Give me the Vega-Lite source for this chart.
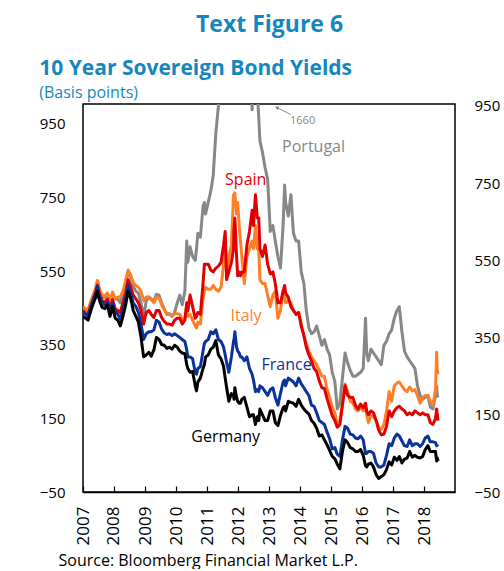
{
"$schema": "https://vega.github.io/schema/vega-lite/v6.json",
"background": "white",
"padding": {"left": 38, "top": 14, "right": 0, "bottom": 0},
"config": {"font": "Open Sans", "view": {"stroke": "#000", "strokeWidth": 1.5}},
"title": {"text": "Text Figure 6", "anchor": "middle", "fontSize": 23, "fontWeight": "bold", "color": "#1487bf", "font": "Open Sans", "offset": 20},
"datasets": {
"yields": [
{"d":"2007-01-01","P":425,"I":430,"S":420,"F":415,"G":405},
{"d":"2007-02-01","P":420,"I":425,"S":412,"F":410,"G":400},
{"d":"2007-03-01","P":418,"I":422,"S":410,"F":405,"G":395},
{"d":"2007-04-01","P":440,"I":442,"S":432,"F":428,"G":418},
{"d":"2007-05-01","P":458,"I":460,"S":450,"F":448,"G":438},
{"d":"2007-06-01","P":478,"I":480,"S":470,"F":465,"G":455},
{"d":"2007-06-20","P":495,"I":498,"S":486,"F":482,"G":470},
{"d":"2007-07-15","P":470,"I":475,"S":462,"F":455,"G":445},
{"d":"2007-08-15","P":452,"I":458,"S":445,"F":440,"G":428},
{"d":"2007-09-15","P":455,"I":458,"S":442,"F":435,"G":425},
{"d":"2007-10-15","P":462,"I":466,"S":450,"F":442,"G":435},
{"d":"2007-11-15","P":440,"I":445,"S":422,"F":415,"G":405},
{"d":"2007-12-15","P":465,"I":468,"S":448,"F":440,"G":430},
{"d":"2008-01-15","P":450,"I":452,"S":425,"F":418,"G":400},
{"d":"2008-02-15","P":450,"I":455,"S":420,"F":410,"G":395},
{"d":"2008-03-15","P":440,"I":455,"S":415,"F":398,"G":380},
{"d":"2008-04-15","P":462,"I":470,"S":440,"F":420,"G":405},
{"d":"2008-05-15","P":488,"I":495,"S":462,"F":450,"G":432},
{"d":"2008-06-15","P":520,"I":525,"S":500,"F":485,"G":470},
{"d":"2008-07-15","P":505,"I":512,"S":482,"F":465,"G":452},
{"d":"2008-08-15","P":482,"I":492,"S":460,"F":440,"G":420},
{"d":"2008-09-15","P":470,"I":485,"S":450,"F":430,"G":405},
{"d":"2008-10-15","P":465,"I":480,"S":440,"F":415,"G":390},
{"d":"2008-11-15","P":438,"I":470,"S":420,"F":385,"G":350},
{"d":"2008-12-15","P":405,"I":445,"S":385,"F":345,"G":300},
{"d":"2009-01-15","P":445,"I":455,"S":415,"F":360,"G":305},
{"d":"2009-02-15","P":455,"I":455,"S":420,"F":365,"G":312},
{"d":"2009-03-15","P":450,"I":448,"S":410,"F":365,"G":302},
{"d":"2009-04-15","P":445,"I":440,"S":402,"F":370,"G":318},
{"d":"2009-05-15","P":462,"I":455,"S":420,"F":395,"G":350},
{"d":"2009-06-15","P":460,"I":452,"S":420,"F":390,"G":345},
{"d":"2009-07-15","P":440,"I":435,"S":402,"F":372,"G":332},
{"d":"2009-08-15","P":425,"I":422,"S":392,"F":362,"G":330},
{"d":"2009-09-15","P":412,"I":410,"S":385,"F":358,"G":322},
{"d":"2009-10-15","P":412,"I":410,"S":385,"F":360,"G":325},
{"d":"2009-11-15","P":405,"I":408,"S":382,"F":355,"G":320},
{"d":"2009-12-15","P":415,"I":412,"S":395,"F":360,"G":330},
{"d":"2010-01-15","P":440,"I":412,"S":400,"F":355,"G":325},
{"d":"2010-02-15","P":460,"I":410,"S":400,"F":350,"G":315},
{"d":"2010-03-15","P":435,"I":395,"S":385,"F":345,"G":310},
{"d":"2010-04-15","P":470,"I":400,"S":395,"F":340,"G":308},
{"d":"2010-05-07","P":600,"I":430,"S":440,"F":318,"G":280},
{"d":"2010-05-20","P":545,"I":405,"S":420,"F":300,"G":270},
{"d":"2010-06-15","P":585,"I":410,"S":460,"F":300,"G":260},
{"d":"2010-07-15","P":560,"I":395,"S":430,"F":295,"G":262},
{"d":"2010-08-15","P":550,"I":380,"S":400,"F":260,"G":225},
{"d":"2010-08-30","P":580,"I":375,"S":405,"F":255,"G":212},
{"d":"2010-09-15","P":620,"I":390,"S":415,"F":270,"G":235},
{"d":"2010-10-15","P":610,"I":385,"S":410,"F":275,"G":245},
{"d":"2010-11-15","P":690,"I":450,"S":490,"F":315,"G":270},
{"d":"2010-12-01","P":700,"I":470,"S":540,"F":335,"G":280},
{"d":"2010-12-15","P":670,"I":480,"S":540,"F":340,"G":300},
{"d":"2011-01-15","P":700,"I":475,"S":540,"F":345,"G":305},
{"d":"2011-02-15","P":730,"I":475,"S":525,"F":365,"G":320},
{"d":"2011-03-15","P":770,"I":485,"S":520,"F":360,"G":325},
{"d":"2011-04-15","P":880,"I":475,"S":530,"F":370,"G":342},
{"d":"2011-05-15","P":950,"I":470,"S":535,"F":345,"G":305},
{"d":"2011-06-15","P":1070,"I":480,"S":545,"F":340,"G":295},
{"d":"2011-07-15","P":1150,"I":540,"S":590,"F":325,"G":275},
{"d":"2011-08-03","P":1150,"I":610,"S":625,"F":305,"G":245},
{"d":"2011-08-20","P":1050,"I":510,"S":500,"F":285,"G":220},
{"d":"2011-09-15","P":1150,"I":555,"S":520,"F":260,"G":185},
{"d":"2011-10-15","P":1180,"I":590,"S":545,"F":300,"G":205},
{"d":"2011-11-09","P":1200,"I":720,"S":580,"F":340,"G":200},
{"d":"2011-11-15","P":1220,"I":690,"S":630,"F":345,"G":190},
{"d":"2011-11-25","P":1300,"I":725,"S":660,"F":365,"G":220},
{"d":"2011-12-15","P":1350,"I":670,"S":560,"F":325,"G":195},
{"d":"2011-12-28","P":1400,"I":700,"S":510,"F":315,"G":185},
{"d":"2012-01-15","P":1500,"I":640,"S":520,"F":310,"G":180},
{"d":"2012-01-30","P":1660,"I":600,"S":510,"F":300,"G":180},
{"d":"2012-02-15","P":1300,"I":560,"S":520,"F":300,"G":190},
{"d":"2012-03-15","P":1270,"I":490,"S":520,"F":290,"G":195},
{"d":"2012-04-15","P":1150,"I":560,"S":590,"F":300,"G":170},
{"d":"2012-05-15","P":1140,"I":580,"S":625,"F":270,"G":145},
{"d":"2012-06-15","P":940,"I":600,"S":680,"F":255,"G":150},
{"d":"2012-07-01","P":1020,"I":580,"S":640,"F":240,"G":150},
{"d":"2012-07-24","P":1080,"I":640,"S":720,"F":210,"G":125},
{"d":"2012-08-15","P":990,"I":580,"S":660,"F":215,"G":145},
{"d":"2012-09-01","P":920,"I":580,"S":660,"F":210,"G":135},
{"d":"2012-09-15","P":860,"I":500,"S":580,"F":225,"G":165},
{"d":"2012-10-15","P":830,"I":490,"S":560,"F":220,"G":150},
{"d":"2012-11-15","P":790,"I":490,"S":590,"F":210,"G":135},
{"d":"2012-12-15","P":760,"I":460,"S":540,"F":200,"G":135},
{"d":"2013-01-15","P":625,"I":430,"S":515,"F":215,"G":160},
{"d":"2013-02-15","P":640,"I":460,"S":520,"F":220,"G":160},
{"d":"2013-03-15","P":600,"I":470,"S":490,"F":195,"G":130},
{"d":"2013-04-15","P":560,"I":400,"S":440,"F":175,"G":122},
{"d":"2013-05-15","P":530,"I":420,"S":440,"F":205,"G":148},
{"d":"2013-06-15","P":640,"I":470,"S":470,"F":235,"G":168},
{"d":"2013-07-03","P":745,"I":460,"S":485,"F":240,"G":172},
{"d":"2013-07-15","P":700,"I":440,"S":465,"F":225,"G":160},
{"d":"2013-08-15","P":665,"I":445,"S":455,"F":245,"G":185},
{"d":"2013-09-15","P":720,"I":440,"S":430,"F":240,"G":182},
{"d":"2013-10-15","P":620,"I":420,"S":420,"F":235,"G":180},
{"d":"2013-11-15","P":600,"I":410,"S":410,"F":225,"G":172},
{"d":"2013-12-15","P":600,"I":415,"S":415,"F":245,"G":190},
{"d":"2014-01-15","P":520,"I":385,"S":380,"F":230,"G":175},
{"d":"2014-02-15","P":490,"I":355,"S":355,"F":220,"G":165},
{"d":"2014-03-15","P":420,"I":335,"S":325,"F":210,"G":158},
{"d":"2014-04-15","P":375,"I":315,"S":305,"F":200,"G":152},
{"d":"2014-05-15","P":360,"I":300,"S":290,"F":175,"G":135},
{"d":"2014-06-15","P":365,"I":290,"S":270,"F":172,"G":128},
{"d":"2014-07-15","P":380,"I":280,"S":262,"F":155,"G":115},
{"d":"2014-08-15","P":355,"I":265,"S":238,"F":135,"G":95},
{"d":"2014-09-15","P":330,"I":250,"S":220,"F":130,"G":98},
{"d":"2014-10-15","P":345,"I":250,"S":218,"F":125,"G":85},
{"d":"2014-11-15","P":320,"I":215,"S":192,"F":105,"G":72},
{"d":"2014-12-15","P":305,"I":195,"S":170,"F":88,"G":58},
{"d":"2015-01-15","P":260,"I":170,"S":148,"F":62,"G":42},
{"d":"2015-02-15","P":235,"I":155,"S":135,"F":65,"G":36},
{"d":"2015-03-15","P":165,"I":125,"S":118,"F":48,"G":22},
{"d":"2015-04-15","P":180,"I":135,"S":125,"F":42,"G":10},
{"d":"2015-05-15","P":245,"I":180,"S":175,"F":85,"G":55},
{"d":"2015-06-15","P":310,"I":230,"S":225,"F":120,"G":85},
{"d":"2015-07-15","P":285,"I":210,"S":200,"F":115,"G":78},
{"d":"2015-08-15","P":265,"I":185,"S":195,"F":100,"G":65},
{"d":"2015-09-15","P":250,"I":180,"S":195,"F":98,"G":62},
{"d":"2015-10-15","P":250,"I":165,"S":175,"F":90,"G":55},
{"d":"2015-11-15","P":255,"I":160,"S":165,"F":88,"G":55},
{"d":"2015-12-15","P":260,"I":170,"S":178,"F":95,"G":60},
{"d":"2016-01-15","P":270,"I":160,"S":168,"F":85,"G":45},
{"d":"2016-02-11","P":400,"I":170,"S":180,"F":50,"G":18},
{"d":"2016-02-25","P":310,"I":150,"S":160,"F":50,"G":15},
{"d":"2016-03-15","P":290,"I":130,"S":150,"F":55,"G":22},
{"d":"2016-04-15","P":320,"I":148,"S":160,"F":55,"G":25},
{"d":"2016-05-15","P":310,"I":145,"S":155,"F":50,"G":15},
{"d":"2016-06-15","P":300,"I":135,"S":135,"F":25,"G":-5},
{"d":"2016-07-15","P":290,"I":118,"S":110,"F":15,"G":-15},
{"d":"2016-08-15","P":280,"I":112,"S":98,"F":15,"G":-10},
{"d":"2016-09-15","P":330,"I":125,"S":100,"F":20,"G":-5},
{"d":"2016-10-15","P":340,"I":160,"S":120,"F":45,"G":8},
{"d":"2016-11-15","P":360,"I":210,"S":160,"F":75,"G":28},
{"d":"2016-12-15","P":370,"I":185,"S":145,"F":70,"G":20},
{"d":"2017-01-15","P":400,"I":225,"S":160,"F":90,"G":40},
{"d":"2017-02-15","P":420,"I":232,"S":168,"F":100,"G":32},
{"d":"2017-03-15","P":430,"I":235,"S":172,"F":95,"G":42},
{"d":"2017-04-15","P":365,"I":225,"S":165,"F":82,"G":25},
{"d":"2017-05-15","P":315,"I":215,"S":160,"F":70,"G":35},
{"d":"2017-06-15","P":300,"I":210,"S":150,"F":68,"G":38},
{"d":"2017-07-15","P":290,"I":222,"S":155,"F":85,"G":55},
{"d":"2017-08-15","P":280,"I":212,"S":150,"F":70,"G":40},
{"d":"2017-09-15","P":270,"I":215,"S":160,"F":75,"G":45},
{"d":"2017-10-15","P":225,"I":200,"S":155,"F":75,"G":40},
{"d":"2017-11-15","P":200,"I":180,"S":150,"F":68,"G":38},
{"d":"2017-12-15","P":190,"I":195,"S":155,"F":75,"G":42},
{"d":"2018-01-15","P":195,"I":200,"S":150,"F":90,"G":60},
{"d":"2018-02-15","P":200,"I":200,"S":150,"F":95,"G":70},
{"d":"2018-03-15","P":170,"I":185,"S":130,"F":80,"G":55},
{"d":"2018-04-15","P":165,"I":175,"S":125,"F":80,"G":55},
{"d":"2018-05-15","P":200,"I":215,"S":140,"F":78,"G":55},
{"d":"2018-05-29","P":225,"I":312,"S":165,"F":70,"G":30},
{"d":"2018-06-05","P":200,"I":265,"S":150,"F":70,"G":38},
{"d":"2018-06-15","P":195,"I":255,"S":135,"F":68,"G":30}
],
"labels": [
{"d":"2014-06-09","v":843,"t":"Portugal","c":"P"},
{"d":"2012-04-01","v":758,"t":"Spain","c":"S"},
{"d":"2012-04-05","v":407,"t":"Italy","c":"I"},
{"d":"2013-07-26","v":280,"t":"France","c":"F"},
{"d":"2011-08-08","v":93,"t":"Germany","c":"G"}
],
"note": [
{"d":"2014-01-31","v":911,"t":"1660","c":"P"}
],
"arrow": [
{"d":"2013-04-01","v":946,"d2":"2013-09-12","v2":928,"c":"P"}
]
},
"vconcat": [
{
"width": 372,
"height": 388,
"title": {"text": "10 Year Sovereign Bond Yields", "subtitle": "(Basis points)", "anchor": "start", "fontSize": 21, "fontWeight": "bold", "color": "#1487bf", "font": "Open Sans", "subtitleFont": "Open Sans", "subtitleColor": "#1487bf", "subtitleFontSize": 16, "subtitlePadding": 6, "offset": -2},
"encoding": {
"x": {"field": "d", "type": "temporal",
"scale": {"type": "utc", "domain": [{"year": 2007, "month": 1, "date": 1, "utc": true}, {"year": 2018, "month": 12, "date": 31, "utc": true}]},
"axis": {"values": [{"year":2007,"utc":true},{"year":2008,"utc":true},{"year":2009,"utc":true},{"year":2010,"utc":true},{"year":2011,"utc":true},{"year":2012,"utc":true},{"year":2013,"utc":true},{"year":2014,"utc":true},{"year":2015,"utc":true},{"year":2016,"utc":true},{"year":2017,"utc":true},{"year":2018,"utc":true}],
"format": "%Y", "formatType": "utc", "labelAngle": -90, "labelAlign": "right", "labelBaseline": "middle", "labelFontSize": 17, "labelColor": "#000", "labelFlush": false, "labelOverlap": false,
"tickSize": -6, "tickColor": "#000", "tickWidth": 1.2, "domainColor": "#000", "domainWidth": 1.5, "labelPadding": 20, "grid": false,
"title": "Source: Bloomberg Financial Market L.P.", "titleFontSize": 16, "titleFontWeight": "normal", "titleColor": "#000", "titleAnchor": "start", "titleAlign": "left", "titleBaseline": "middle", "titleX": -25, "titleY": 68}}
},
"layer": [
{
"data": {"name": "yields"},
"mark": {"type": "point", "opacity": 0},
"encoding": {
"y": {"field": "G", "type": "quantitative", "scale": {"domain": [-50, 1004], "nice": false, "zero": false},
"axis": {"orient": "left", "values": [-50, 150, 350, 550, 750, 950], "ticks": false, "domain": false, "grid": false, "labelFontSize": 15, "labelPadding": 18, "labelColor": "#000", "title": null}}
}
},
{
"encoding": {
"y": {"field": "v", "type": "quantitative", "scale": {"domain": [-50, 955], "nice": false, "zero": false},
"axis": {"orient": "right", "values": [-50, 150, 350, 550, 750, 950], "ticks": false, "domain": false, "grid": false, "labelFontSize": 15, "labelPadding": 19, "labelColor": "#000", "title": null}},
"color": {"field": "c", "type": "nominal", "legend": null,
"scale": {"domain": ["P", "I", "S", "F", "G"], "range": ["#878787", "#ff7f27", "#e30000", "#0a3399", "#000000"]}}
},
"layer": [
{"data": {"name": "yields"}, "transform": [{"fold": ["P", "I", "S", "F", "G"], "as": ["c", "v"]}],
"mark": {"type": "line", "strokeWidth": 3, "clip": true, "strokeJoin": "round"}},
{"data": {"name": "labels"}, "mark": {"type": "text", "fontSize": 16, "font": "Open Sans"}, "encoding": {"text": {"field": "t"}}},
{"data": {"name": "note"}, "mark": {"type": "text", "fontSize": 11, "font": "Open Sans"}, "encoding": {"text": {"field": "t"}}},
{"data": {"name": "arrow"}, "mark": {"type": "rule", "strokeWidth": 1}, "encoding": {"x2": {"field": "d2"}, "y2": {"field": "v2"}}},
{"data": {"name": "arrow"}, "mark": {"type": "point", "shape": "triangle-up", "angle": 293, "size": 18, "filled": true, "opacity": 1}, "encoding": {}}
]
}
],
"resolve": {"scale": {"y": "independent"}}
}
]
}
